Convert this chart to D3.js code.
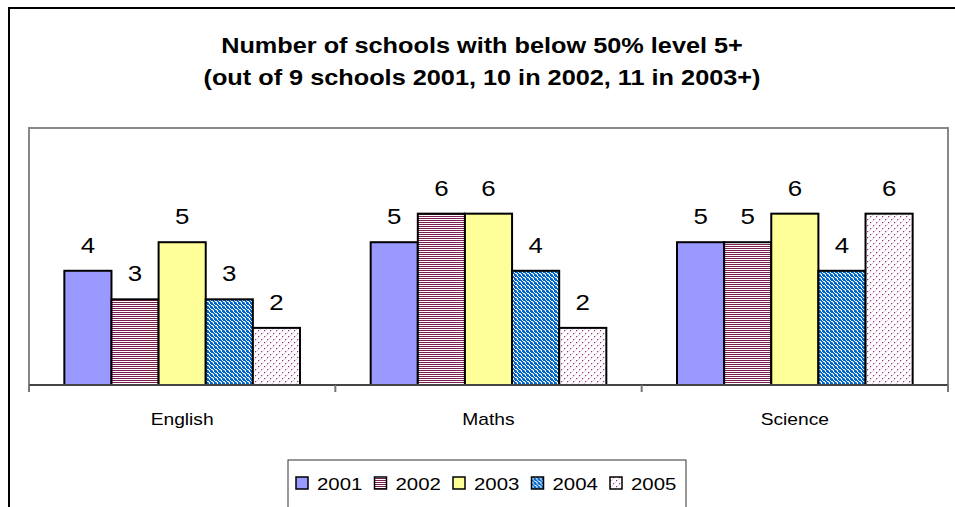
<!DOCTYPE html>
<html><head><meta charset="utf-8">
<script src="https://cdn.jsdelivr.net/npm/d3@7"></script>
<style>body{margin:0;background:#fff}svg{display:block;font-family:"Liberation Sans",Arial,sans-serif}</style>
</head><body>
<svg id="c" width="955" height="507"></svg>
<script>
const categories = ["English", "Maths", "Science"];
const years = ["2001", "2002", "2003", "2004", "2005"];
const v2001 = [4, 5, 5];
const v2002 = [3, 6, 5];
const v2003 = [5, 6, 6];
const v2004 = [3, 4, 4];
const v2005 = [2, 2, 6];
const titleLines = ["Number of schools with below 50% level 5+", "(out of 9 schools 2001, 10 in 2002, 11 in 2003+)"];
const yMax = 9;

const series = [v2001, v2002, v2003, v2004, v2005];
const SX = 1.2; // horizontal text stretch
const svg = d3.select("#c");
const defs = svg.append("defs");

function pat(id, w, h, bg, draw) {
  const p = defs.append("pattern").attr("id", id).attr("patternUnits", "userSpaceOnUse")
    .attr("width", w).attr("height", h);
  p.append("rect").attr("width", w).attr("height", h).attr("fill", bg);
  draw(p);
}
function px(p, pts, col) {
  pts.forEach(([x, y]) => p.append("rect").attr("x", x).attr("y", y).attr("width", 1).attr("height", 1).attr("fill", col));
}
pat("p2002", 2, 2, "#fff", p => {
  p.append("rect").attr("x", 0).attr("y", 0).attr("width", 2).attr("height", 1).attr("fill", "#7A2050");
});
pat("p2004", 4, 4, "#fff", p => {
  px(p, [[0,0],[1,1],[2,2],[3,3],[1,0],[2,1],[3,2],[0,3],[3,0],[2,3]], "#0066CC");
  px(p, [[0,2]], "#66AAEE");
});
pat("p2005", 6, 6, "#fff", p => {
  px(p, [[0,0],[3,3]], "#993377");
  px(p, [[1,0],[0,1],[4,3],[3,4],[2,5],[5,2]], "#E6C6E6");
});
const fills = ["#9999FF", "url(#p2002)", "#FFFF99", "url(#p2004)", "url(#p2005)"];

function stext(sel, sx) {
  return sel.attr("transform", d => `translate(${d.x},${d.y}) scale(${sx || SX},1)`);
}

svg.append("rect").attr("x", 9).attr("y", 8).attr("width", 960).attr("height", 520)
  .attr("fill", "#fff").attr("stroke", "#000").attr("stroke-width", 2);

svg.append("g").selectAll("text").data(titleLines.map((t, i) => ({t, x: 482, y: 53 + i * 32}))).join("text")
  .call(stext, 1.16)
  .attr("text-anchor", "middle").attr("font-weight", "bold").attr("font-size", 21.8)
  .text(d => d.t);

const plot = {left: 29, right: 948, top: 128, bottom: 385};
svg.append("rect").attr("x", plot.left).attr("y", plot.top)
  .attr("width", plot.right - plot.left).attr("height", plot.bottom - plot.top)
  .attr("fill", "#fff").attr("stroke", "#888").attr("stroke-width", 2);

const x0 = d3.scaleBand().domain(categories).range([plot.left, plot.right]);
const x1 = d3.scaleBand().domain(years).range([0, x0.bandwidth()]).paddingOuter(0.75).paddingInner(0);
const y = d3.scaleLinear().domain([0, yMax]).range([plot.bottom, plot.top]);

const data = [];
categories.forEach((c, ci) => years.forEach((yr, si) => data.push({c, yr, si, v: series[si][ci]})));

svg.append("g").selectAll("rect").data(data).join("rect")
  .attr("x", d => x0(d.c) + x1(d.yr))
  .attr("y", d => y(d.v))
  .attr("width", x1.bandwidth())
  .attr("height", d => y(0) - y(d.v))
  .attr("fill", d => fills[d.si])
  .attr("stroke", "#000").attr("stroke-width", 2);

svg.append("g").selectAll("text")
  .data(data.map(d => ({t: d.v, x: x0(d.c) + x1(d.yr) + x1.bandwidth() / 2, y: y(d.v) - 18})))
  .join("text").call(stext, 1.15)
  .attr("text-anchor", "middle").attr("font-size", 22.5)
  .text(d => d.t);

const ax = svg.append("g");
ax.append("line").attr("x1", plot.left).attr("x2", plot.right).attr("y1", plot.bottom).attr("y2", plot.bottom)
  .attr("stroke", "#444").attr("stroke-width", 2);
const bounds = categories.map(c => x0(c)).concat([plot.right]);
ax.selectAll("line.t").data(bounds).join("line").attr("class", "t")
  .attr("x1", d => d).attr("x2", d => d).attr("y1", plot.bottom).attr("y2", plot.bottom + 7)
  .attr("stroke", "#777").attr("stroke-width", 2);
ax.selectAll("text").data(categories.map(c => ({t: c, x: x0(c) + x0.bandwidth() / 2, y: plot.bottom + 40})))
  .join("text").call(stext)
  .attr("text-anchor", "middle").attr("font-size", 16).text(d => d.t);

const lg = svg.append("g");
lg.append("rect").attr("x", 288).attr("y", 460).attr("width", 398).attr("height", 60)
  .attr("fill", "#fff").attr("stroke", "#333").attr("stroke-width", 1);
const li = lg.selectAll("g").data(years).join("g")
  .attr("transform", (d, i) => `translate(${296 + i * 78.5},0)`);
li.append("rect").attr("x", 0).attr("y", 477).attr("width", 12).attr("height", 12)
  .attr("fill", (d, i) => fills[i]).attr("stroke", "#000").attr("stroke-width", 1.5);
li.append("text").attr("transform", `translate(21,490) scale(${SX},1)`).attr("font-size", 17).text(d => d);
</script>
</body></html>
